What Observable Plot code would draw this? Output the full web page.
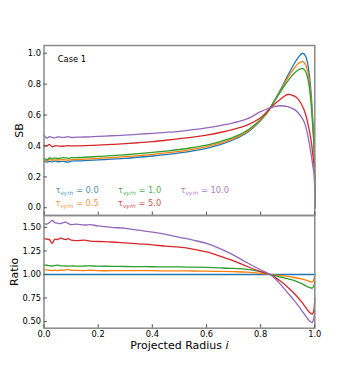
<!DOCTYPE html>
<html><head><meta charset="utf-8">
<script src="https://cdn.jsdelivr.net/npm/d3@7"></script>
<script src="https://cdn.jsdelivr.net/npm/@observablehq/plot@0.6"></script>
<style>
body{margin:0;background:#fff;}
#chart{position:relative;width:350px;height:375px;font-family:"DejaVu Sans",sans-serif;}
#chart svg{position:absolute;left:0;overflow:visible;background:transparent;}
</style></head><body><div id="chart"></div>
<script>
// ---------- data ----------
const radiusTop = [0, 0.01, 0.02, 0.03, 0.04, 0.05, 0.07, 0.09, 0.1, 0.12, 0.15, 0.2, 0.25, 0.3, 0.35, 0.4, 0.45, 0.5, 0.55, 0.6, 0.65, 0.7, 0.75, 0.8, 0.825, 0.85, 0.875, 0.9, 0.925, 0.94, 0.955, 0.965, 0.975, 0.985, 0.993, 0.998, 1.0];
const sbTau0  = [0.30, 0.295, 0.30, 0.297, 0.302, 0.298, 0.30, 0.296, 0.302, 0.303, 0.305, 0.31, 0.315, 0.32, 0.327, 0.335, 0.344, 0.355, 0.368, 0.385, 0.408, 0.44, 0.487, 0.565, 0.617, 0.69, 0.77, 0.855, 0.935, 0.975, 1.0, 0.985, 0.92, 0.77, 0.55, 0.38, 0.0];
const sbTau05 = [0.31, 0.305, 0.312, 0.308, 0.31, 0.309, 0.312, 0.307, 0.312, 0.313, 0.315, 0.32, 0.325, 0.331, 0.338, 0.346, 0.355, 0.365, 0.378, 0.395, 0.418, 0.448, 0.493, 0.568, 0.618, 0.688, 0.762, 0.84, 0.905, 0.935, 0.946, 0.93, 0.87, 0.73, 0.53, 0.37, 0.0];
const sbTau1  = [0.32, 0.31, 0.322, 0.317, 0.323, 0.318, 0.325, 0.32, 0.324, 0.325, 0.327, 0.332, 0.337, 0.343, 0.35, 0.358, 0.367, 0.377, 0.39, 0.405, 0.428, 0.457, 0.50, 0.572, 0.62, 0.688, 0.755, 0.82, 0.872, 0.893, 0.90, 0.885, 0.83, 0.70, 0.51, 0.36, 0.0];
const sbTau5  = [0.405, 0.40, 0.41, 0.395, 0.40, 0.40, 0.398, 0.402, 0.40, 0.401, 0.402, 0.405, 0.41, 0.415, 0.421, 0.428, 0.437, 0.447, 0.457, 0.47, 0.487, 0.508, 0.535, 0.582, 0.625, 0.668, 0.705, 0.733, 0.722, 0.70, 0.655, 0.61, 0.54, 0.45, 0.34, 0.25, 0.0];
const sbTau10 = [0.47, 0.45, 0.46, 0.455, 0.452, 0.458, 0.455, 0.46, 0.455, 0.457, 0.458, 0.462, 0.466, 0.47, 0.476, 0.482, 0.488, 0.495, 0.505, 0.517, 0.532, 0.55, 0.575, 0.622, 0.64, 0.655, 0.66, 0.655, 0.635, 0.612, 0.575, 0.535, 0.46, 0.36, 0.27, 0.2, 0.0];

const radiusBot = [0, 0.01, 0.02, 0.03, 0.04, 0.05, 0.06, 0.08, 0.09, 0.1, 0.12, 0.15, 0.17, 0.2, 0.25, 0.3, 0.35, 0.4, 0.45, 0.5, 0.55, 0.6, 0.65, 0.7, 0.75, 0.8, 0.835, 0.85, 0.875, 0.9, 0.925, 0.95, 0.97, 0.98, 0.99, 0.995, 1.0];
const ratioTau0  = [1, 1, 1, 1, 1, 1, 1, 1, 1, 1, 1, 1, 1, 1, 1, 1, 1, 1, 1, 1, 1, 1, 1, 1, 1, 1, 1, 1, 1, 1, 1, 1, 1, 1, 1, 1, 1];
const ratioTau05 = [1.05, 1.048, 1.045, 1.04, 1.045, 1.042, 1.045, 1.05, 1.055, 1.045, 1.043, 1.042, 1.045, 1.04, 1.04, 1.04, 1.04, 1.04, 1.038, 1.038, 1.037, 1.035, 1.033, 1.03, 1.025, 1.012, 1.0, 0.995, 0.988, 0.98, 0.968, 0.953, 0.938, 0.928, 0.92, 0.935, 0.99];
const ratioTau1  = [1.10, 1.098, 1.093, 1.09, 1.095, 1.10, 1.092, 1.09, 1.088, 1.092, 1.088, 1.09, 1.092, 1.088, 1.087, 1.085, 1.084, 1.082, 1.081, 1.08, 1.078, 1.075, 1.07, 1.064, 1.055, 1.03, 1.0, 0.99, 0.972, 0.955, 0.935, 0.905, 0.875, 0.862, 0.855, 0.87, 0.92];
const ratioTau5  = [1.38, 1.375, 1.37, 1.33, 1.375, 1.37, 1.385, 1.37, 1.38, 1.365, 1.36, 1.365, 1.355, 1.35, 1.345, 1.335, 1.325, 1.315, 1.30, 1.29, 1.27, 1.24, 1.195, 1.145, 1.085, 1.03, 1.0, 0.975, 0.925, 0.865, 0.795, 0.715, 0.635, 0.60, 0.58, 0.60, 0.75];
const ratioTau10 = [1.54, 1.535, 1.55, 1.575, 1.55, 1.545, 1.54, 1.555, 1.54, 1.53, 1.535, 1.525, 1.53, 1.515, 1.50, 1.49, 1.47, 1.45, 1.425, 1.395, 1.365, 1.33, 1.275, 1.205, 1.125, 1.05, 1.0, 0.965, 0.89, 0.805, 0.72, 0.625, 0.545, 0.51, 0.49, 0.52, 0.62];

const tauLabels = ["0.0", "0.5", "1.0", "5.0", "10.0"];
const xTicks = [0, 0.2, 0.4, 0.6, 0.8, 1.0];
const sbTicks = [0, 0.2, 0.4, 0.6, 0.8, 1.0];
const ratioTicks = [0.5, 0.75, 1.0, 1.25, 1.5];

// ---------- styles ----------
const colors = ["#1f77b4", "#ff7f0e", "#2ca02c", "#d62728", "#9467bd"];
const font = "DejaVu Sans";
const frameColor = "#8a8a8a";
const W = 350, ML = 43.5, MR = 35.7;

const sbSeries = [sbTau0, sbTau05, sbTau1, sbTau5, sbTau10];
const ratioSeries = [ratioTau0, ratioTau05, ratioTau1, ratioTau5, ratioTau10];
const toRows = (xs, ys) => xs.map((r, i) => ({r, v: ys[i]}));

const lineMarks = (xs, series) => series.map((ys, k) =>
  Plot.line(toRows(xs, ys), {x: "r", y: "v", stroke: colors[k], strokeWidth: 1.3, curve: "catmull-rom"}));

const legendMarks = tauLabels.map((lab, i) => {
  const col = Math.floor(i / 2), row = i % 2;
  return Plot.text([lab], {
    text: d => d, frameAnchor: "bottom-left", textAnchor: "start", lineAnchor: "middle",
    dx: 11.5 + col * 62.5, dy: -25 + row * 13, fill: colors[i], fillOpacity: 0.85,
    fontSize: 8.3, className: "legend-item"
  });
});

const topPlot = Plot.plot({
  width: W, height: 215, marginTop: 45, marginBottom: 0, marginLeft: ML, marginRight: MR,
  style: {fontFamily: font, fontSize: "8.3px", color: "#000", background: "transparent"},
  x: {domain: [0, 1]},
  y: {domain: [-0.05, 1.05]},
  marks: [
    ...lineMarks(radiusTop, sbSeries),
    Plot.frame({stroke: frameColor, strokeWidth: 1.5}),
    Plot.axisY(sbTicks, {tickSize: 3.5, dx: 3.5, tickPadding: 3, tickFormat: d3.format(".1f"), stroke: "#555", label: null}),
    Plot.axisX(xTicks, {tickSize: 3.5, dy: -3.5, tickFormat: () => "", stroke: "#555", label: null}),
    Plot.text(["Case 1"], {text: d => d, frameAnchor: "top-left", textAnchor: "start", lineAnchor: "middle", dx: 13.8, dy: 14, fontSize: 8.3, fill: "#000"}),
    Plot.text(["SB"], {text: d => d, frameAnchor: "left", rotate: -90, textAnchor: "middle", lineAnchor: "middle", dx: -24.5, fontSize: 11, fill: "#000"}),
    ...legendMarks
  ]
});

const bottomPlot = Plot.plot({
  width: W, height: 160, marginTop: 0, marginBottom: 47.3, marginLeft: ML, marginRight: MR,
  style: {fontFamily: font, fontSize: "8.3px", color: "#000", background: "transparent"},
  x: {domain: [0, 1]},
  y: {domain: [0.43, 1.626]},
  marks: [
    ...lineMarks(radiusBot, ratioSeries),
    Plot.frame({stroke: frameColor, strokeWidth: 1.5}),
    Plot.axisY(ratioTicks, {tickSize: 3.5, dx: 3.5, tickPadding: 3, tickFormat: d3.format(".2f"), stroke: "#555", label: null}),
    Plot.axisX(xTicks, {tickSize: 3.5, dy: -3.5, tickPadding: 2.5, tickFormat: d3.format(".1f"), stroke: "#555", label: null}),
    Plot.text(["Ratio"], {text: d => d, frameAnchor: "left", rotate: -90, textAnchor: "middle", lineAnchor: "middle", dx: -30, fontSize: 11, fill: "#000"}),
    Plot.text(["Projected Radius "], {text: d => d, frameAnchor: "bottom", textAnchor: "middle", lineAnchor: "middle", dy: 17.5, fontSize: 11, fill: "#000", className: "xlabel"})
  ]
});

const chart = document.getElementById("chart");
topPlot.style.top = "0px";
bottomPlot.style.top = "215px";
chart.appendChild(topPlot);
chart.appendChild(bottomPlot);

// rich text: italic i in x label, subscripts in legend
d3.select(bottomPlot).selectAll(".xlabel text").each(function() {
  const t = d3.select(this);
  const base = t.text();
  t.text(null);
  t.append("tspan").text(base);
  t.append("tspan").attr("font-style", "italic").text("i");
});
d3.select(topPlot).selectAll(".legend-item text").each(function() {
  const t = d3.select(this);
  const val = t.text();
  t.text(null);
  t.append("tspan").text("τ");
  t.append("tspan").attr("font-size", "6px").attr("font-style", "italic").attr("dy", "2").text("νym");
  t.append("tspan").attr("dy", "-2").text(" = " + val);
});
</script>
</body></html>
